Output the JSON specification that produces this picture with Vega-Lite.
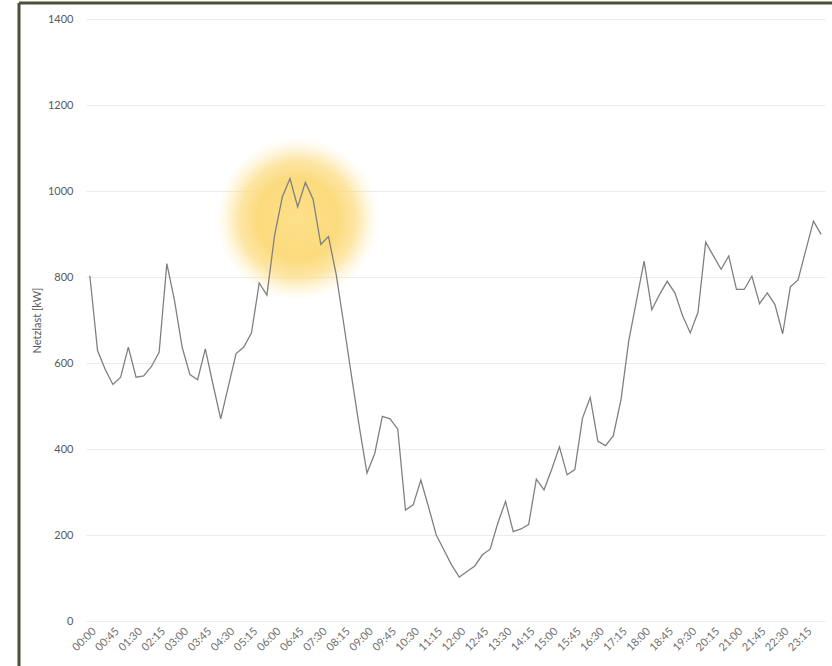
{
  "$schema": "https://vega.github.io/schema/vega-lite/v6.json",
  "autosize": {"type": "none"},
  "padding": {"left": 19, "top": 3, "right": 0, "bottom": 0},
  "width": 813,
  "height": 663,
  "background": "white",
  "config": {
    "view": {"stroke": "#4e4e36", "strokeWidth": 3, "strokeDash": [813, 1476, 663, 0]},
    "font": "Lato",
    "axis": {"labelFont": "Lato", "titleFont": "Lato", "labelColor": "#595959", "titleColor": "#595959", "labelFontSize": 11, "titleFontSize": 11, "titleFontWeight": "normal"}
  },
  "datasets": {
    "load": [
      {"time": "00:00", "kW": 803}, {"time": "00:15", "kW": 629}, {"time": "00:30", "kW": 585}, {"time": "00:45", "kW": 550},
      {"time": "01:00", "kW": 567}, {"time": "01:15", "kW": 637}, {"time": "01:30", "kW": 567}, {"time": "01:45", "kW": 570},
      {"time": "02:00", "kW": 592}, {"time": "02:15", "kW": 625}, {"time": "02:30", "kW": 831}, {"time": "02:45", "kW": 745},
      {"time": "03:00", "kW": 636}, {"time": "03:15", "kW": 573}, {"time": "03:30", "kW": 561}, {"time": "03:45", "kW": 633},
      {"time": "04:00", "kW": 550}, {"time": "04:15", "kW": 470}, {"time": "04:30", "kW": 546}, {"time": "04:45", "kW": 622},
      {"time": "05:00", "kW": 637}, {"time": "05:15", "kW": 670}, {"time": "05:30", "kW": 786}, {"time": "05:45", "kW": 758},
      {"time": "06:00", "kW": 897}, {"time": "06:15", "kW": 986}, {"time": "06:30", "kW": 1029}, {"time": "06:45", "kW": 963},
      {"time": "07:00", "kW": 1020}, {"time": "07:15", "kW": 981}, {"time": "07:30", "kW": 876}, {"time": "07:45", "kW": 894},
      {"time": "08:00", "kW": 806}, {"time": "08:15", "kW": 689}, {"time": "08:30", "kW": 569}, {"time": "08:45", "kW": 452},
      {"time": "09:00", "kW": 344}, {"time": "09:15", "kW": 389}, {"time": "09:30", "kW": 476}, {"time": "09:45", "kW": 470},
      {"time": "10:00", "kW": 446}, {"time": "10:15", "kW": 258}, {"time": "10:30", "kW": 270}, {"time": "10:45", "kW": 328},
      {"time": "11:00", "kW": 265}, {"time": "11:15", "kW": 200}, {"time": "11:30", "kW": 165}, {"time": "11:45", "kW": 130},
      {"time": "12:00", "kW": 102}, {"time": "12:15", "kW": 115}, {"time": "12:30", "kW": 128}, {"time": "12:45", "kW": 154},
      {"time": "13:00", "kW": 167}, {"time": "13:15", "kW": 228}, {"time": "13:30", "kW": 278}, {"time": "13:45", "kW": 208},
      {"time": "14:00", "kW": 214}, {"time": "14:15", "kW": 224}, {"time": "14:30", "kW": 330}, {"time": "14:45", "kW": 305},
      {"time": "15:00", "kW": 353}, {"time": "15:15", "kW": 405}, {"time": "15:30", "kW": 340}, {"time": "15:45", "kW": 352},
      {"time": "16:00", "kW": 472}, {"time": "16:15", "kW": 520}, {"time": "16:30", "kW": 418}, {"time": "16:45", "kW": 408},
      {"time": "17:00", "kW": 431}, {"time": "17:15", "kW": 515}, {"time": "17:30", "kW": 651}, {"time": "17:45", "kW": 744},
      {"time": "18:00", "kW": 837}, {"time": "18:15", "kW": 724}, {"time": "18:30", "kW": 759}, {"time": "18:45", "kW": 790},
      {"time": "19:00", "kW": 763}, {"time": "19:15", "kW": 710}, {"time": "19:30", "kW": 670}, {"time": "19:45", "kW": 718},
      {"time": "20:00", "kW": 881}, {"time": "20:15", "kW": 849}, {"time": "20:30", "kW": 818}, {"time": "20:45", "kW": 849},
      {"time": "21:00", "kW": 771}, {"time": "21:15", "kW": 771}, {"time": "21:30", "kW": 802}, {"time": "21:45", "kW": 738},
      {"time": "22:00", "kW": 763}, {"time": "22:15", "kW": 736}, {"time": "22:30", "kW": 668}, {"time": "22:45", "kW": 777},
      {"time": "23:00", "kW": 793}, {"time": "23:15", "kW": 862}, {"time": "23:30", "kW": 930}, {"time": "23:45", "kW": 899}
    ],
    "glow": [{"time": "06:45", "kW": 935}]
  },
  "encoding": {
    "x": {
      "field": "time", "type": "ordinal", "sort": "ascending",
      "scale": {"type": "point", "padding": 0.5, "range": [67, 806]},
      "axis": {
        "title": null, "offset": -45, "labelAngle": -45, "domain": false, "ticks": false, "grid": false,
        "labelPadding": 4, "labelColor": "#6f6f6f",
        "values": ["00:00","00:45","01:30","02:15","03:00","03:45","04:30","05:15","06:00","06:45","07:30","08:15","09:00","09:45","10:30","11:15","12:00","12:45","13:30","14:15","15:00","15:45","16:30","17:15","18:00","18:45","19:30","20:15","21:00","21:45","22:30","23:15"]
      }
    },
    "y": {
      "field": "kW", "type": "quantitative",
      "scale": {"domain": [0, 1400], "nice": false, "zero": true, "range": [618, 16]},
      "axis": {
        "title": "Netzlast [kW]", "offset": -67, "domain": false, "ticks": false, "format": "d",
        "grid": true, "gridColor": "#ececec", "gridWidth": 1,
        "values": [0, 200, 400, 600, 800, 1000, 1200, 1400],
        "labelPadding": 13, "titlePadding": 5
      }
    }
  },
  "layer": [
    {
      "data": {"name": "glow"},
      "mark": {
        "type": "point", "filled": true, "size": 26000, "opacity": 1, "strokeWidth": 0,
        "color": {"gradient": "radial", "x1": 0.5, "y1": 0.5, "r1": 0, "x2": 0.5, "y2": 0.5, "r2": 0.5,
          "stops": [
            {"offset": 0, "color": "#fde08a"},
            {"offset": 0.5, "color": "#fcdb7e"},
            {"offset": 0.72, "color": "rgba(252,219,126,0.7)"},
            {"offset": 0.88, "color": "rgba(252,222,135,0.25)"},
            {"offset": 1, "color": "rgba(252,222,135,0)"}
          ]}
      }
    },
    {
      "data": {"name": "load"},
      "mark": {"type": "line", "color": "#808080", "strokeWidth": 1.3}
    }
  ]
}
